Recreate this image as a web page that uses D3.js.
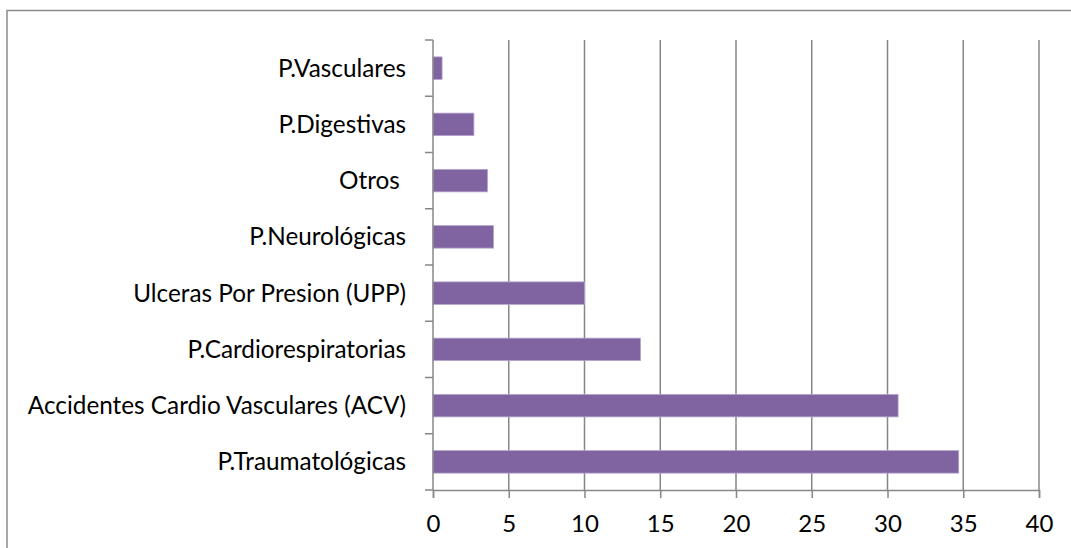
<!DOCTYPE html>
<html>
<head>
<meta charset="utf-8">
<script src="https://cdn.jsdelivr.net/npm/d3@7"></script>
<style>
  html, body { margin: 0; padding: 0; background: #fff; }
  svg text { font-family: Lato, "Liberation Sans", sans-serif; fill: #000; white-space: pre; }
</style>
</head>
<body>
<svg id="chart" width="1071" height="548"></svg>
<script>
const categories = [
  "P.Vasculares",
  "P.Digestivas",
  "Otros ",
  "P.Neurológicas",
  "Ulceras Por Presion (UPP)",
  "P.Cardiorespiratorias",
  "Accidentes Cardio Vasculares (ACV)",
  "P.Traumatológicas"
];
const values = [0.6, 2.7, 3.6, 4.0, 10.0, 13.7, 30.7, 34.7];
const xTicks = [0, 5, 10, 15, 20, 25, 30, 35, 40];

(function () {
const svg = d3.select("#chart");
const W = 1071, H = 548;
const pL = 433, pR = 1039, pT = 40, pB = 490;
const gridColor = "#878787";

// outer frame (extends beyond visible area on right/bottom)
svg.append("rect")
  .attr("x", 7).attr("y", 10.5)
  .attr("width", W + 20).attr("height", H + 20)
  .attr("fill", "none").attr("stroke", "#8c8c8c").attr("stroke-width", 1.5);

const x = d3.scaleLinear().domain([0, 40]).range([pL, pR]);
const y = d3.scaleBand().domain(categories).range([pT, pB]).paddingInner(0.6).paddingOuter(0.3);

// vertical gridlines
svg.append("g").selectAll("line").data(xTicks.slice(1)).join("line")
  .attr("x1", d => x(d)).attr("x2", d => x(d))
  .attr("y1", pT).attr("y2", pB)
  .attr("stroke", gridColor).attr("stroke-width", 1.5);

// bars
svg.append("g").selectAll("rect").data(categories).join("rect")
  .attr("x", x(0))
  .attr("y", d => y(d))
  .attr("width", (d, i) => x(values[i]) - x(0))
  .attr("height", y.bandwidth())
  .attr("fill", "#8064a2")
  .attr("stroke", "#b6a5cc").attr("stroke-width", 0.8);

// x axis
const xAxis = svg.append("g").attr("transform", `translate(0,${pB})`)
  .call(d3.axisBottom(x).tickValues(xTicks).tickSize(8).tickPadding(17).tickFormat(d3.format("d")));
xAxis.select(".domain").attr("stroke", gridColor).attr("stroke-width", 1.5);
xAxis.selectAll(".tick line").attr("stroke", gridColor).attr("stroke-width", 1.5);
xAxis.selectAll("text").style("font-size", "24px");

// y axis: ticks at band boundaries
const yAxisG = svg.append("g").attr("transform", `translate(${pL},0)`);
const boundaries = d3.range(categories.length + 1).map(i => pT + i * (pB - pT) / categories.length);
yAxisG.append("line").attr("x1", 0).attr("x2", 0).attr("y1", pT).attr("y2", pB)
  .attr("stroke", gridColor).attr("stroke-width", 1.5);
yAxisG.selectAll("line.tk").data(boundaries).join("line").attr("class", "tk")
  .attr("x1", -8).attr("x2", 0).attr("y1", d => d).attr("y2", d => d)
  .attr("stroke", gridColor).attr("stroke-width", 1.5);
yAxisG.selectAll("text").data(categories).join("text")
  .attr("x", -27)
  .attr("y", d => y(d) + y.bandwidth() / 2)
  .attr("dy", "0.35em")
  .attr("text-anchor", "end")
  .style("font-size", "24.3px")
  .text(d => d);
})();
</script>
</body>
</html>
